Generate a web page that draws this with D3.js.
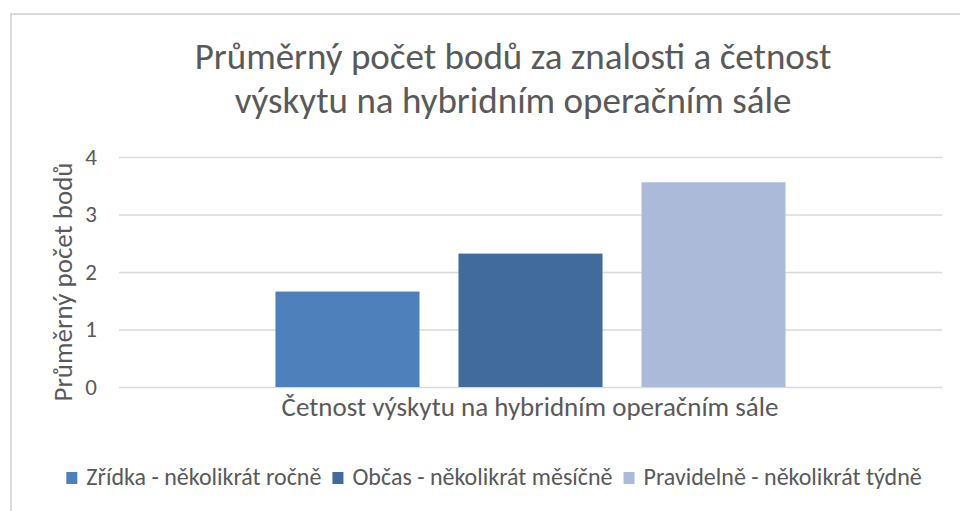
<!DOCTYPE html>
<html>
<head>
<meta charset="utf-8">
<script src="https://cdn.jsdelivr.net/npm/d3@7"></script>
<style>
  body { margin: 0; background: #fff; }
  svg { display: block; font-family: Carlito, 'Open Sans', sans-serif; }
</style>
</head>
<body>
<svg width="960" height="511"></svg>
<script>
// chart data
const titleLines = ['Průměrný počet bodů za znalosti a četnost', 'výskytu na hybridním operačním sále'];
const yLabel = 'Průměrný počet bodů';
const xLabel = 'Četnost výskytu na hybridním operačním sále';
const series = ['Zřídka - několikrát ročně', 'Občas - několikrát měsíčně', 'Pravidelně - několikrát týdně'];
const values = [1.66, 2.32, 3.56];
const colors = ['#4e80bc', '#406b9b', '#abbad8'];
const yTicks = [0, 1, 2, 3, 4];

const svg = d3.select('svg');
const textColor = '#595959';

// outer frame (runs off the right/bottom edge like the original)
svg.append('rect')
  .attr('x', 11).attr('y', 14)
  .attr('width', 970).attr('height', 520)
  .attr('fill', '#fff')
  .attr('stroke', '#d9d9d9').attr('stroke-width', 2);

const plotLeft = 119, plotRight = 942, plotTop = 157, plotBottom = 387;

const y = d3.scaleLinear().domain([0, 4]).range([plotBottom, plotTop]);
const x = d3.scaleBand().domain(series).range([plotLeft, plotRight])
  .paddingInner(0.213).paddingOuter(0.855);

// gridlines + tick labels
const yAxis = svg.append('g')
  .attr('transform', `translate(${plotLeft},0)`)
  .call(d3.axisLeft(y).tickValues(yTicks).tickSize(-(plotRight - plotLeft)).tickPadding(22).tickFormat(d3.format('d')));
yAxis.select('.domain').remove();
yAxis.selectAll('line').attr('stroke', '#d9d9d9').attr('stroke-width', 1.5);
yAxis.selectAll('text')
  .attr('fill', textColor)
  .style('font-size', '23px')
  .style('font-family', "Carlito, 'Open Sans', sans-serif");

// bars
svg.append('g')
  .selectAll('rect')
  .data(series)
  .join('rect')
  .attr('x', d => x(d))
  .attr('width', x.bandwidth())
  .attr('y', (d, i) => y(values[i]))
  .attr('height', (d, i) => y(0) - y(values[i]))
  .attr('fill', (d, i) => colors[i]);

// title
svg.append('text')
  .attr('text-anchor', 'middle')
  .attr('fill', textColor)
  .style('font-size', '37px')
  .selectAll('tspan')
  .data(titleLines)
  .join('tspan')
  .attr('x', 513)
  .attr('y', (d, i) => 69 + i * 44)
  .text(d => d);

// axis titles
svg.append('text')
  .attr('transform', 'translate(72,282) rotate(-90)')
  .attr('text-anchor', 'middle')
  .attr('fill', textColor)
  .style('font-size', '27px')
  .text(yLabel);

svg.append('text')
  .attr('x', 530).attr('y', 416)
  .attr('text-anchor', 'middle')
  .attr('fill', textColor)
  .style('font-size', '27px')
  .text(xLabel);

// legend
const legend = svg.append('g');
let lx = 0;
series.forEach((s, i) => {
  const item = legend.append('g').attr('transform', `translate(${lx},0)`);
  item.append('rect')
    .attr('x', 0).attr('y', -13)
    .attr('width', 11).attr('height', 12)
    .attr('fill', colors[i]);
  const t = item.append('text')
    .attr('x', 20).attr('y', 0)
    .attr('fill', textColor)
    .style('font-size', '24px')
    .text(s);
  lx += 20 + t.node().getComputedTextLength() + 11;
});
const legendWidth = lx - 11;
legend.attr('transform', `translate(${494 - legendWidth / 2},485)`);
</script>
</body>
</html>
